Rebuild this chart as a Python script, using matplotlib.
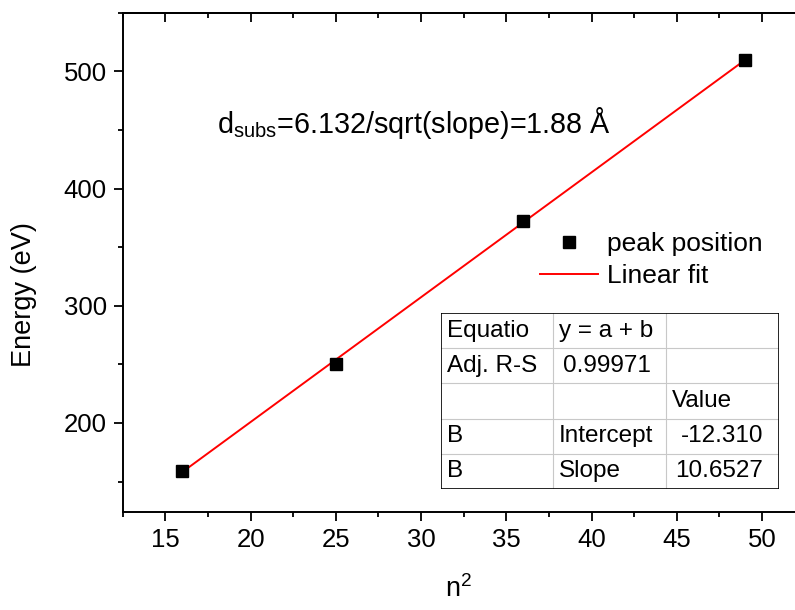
import matplotlib
matplotlib.use('Agg')
import matplotlib.pyplot as plt
from matplotlib.ticker import MultipleLocator
from matplotlib.lines import Line2D

# data
n2 = [16, 25, 36, 49]
energy = [159, 250, 372, 510]
intercept = -12.310
slope = 10.6527
fit_x = [16, 49]
xticks = [15, 20, 25, 30, 35, 40, 45, 50]
yticks = [200, 300, 400, 500]
table_rows = [
    ["Equatio", "y = a + b", ""],
    ["Adj. R-S", "0.99971", ""],
    ["", "", "Value"],
    ["B", "Intercept", "-12.310"],
    ["B", "Slope", "10.6527"],
]
note = "d$_{\\mathrm{subs}}$=6.132/sqrt(slope)=1.88 Å"

plt.rcParams['font.family'] = ['Liberation Sans', 'DejaVu Sans']
plt.rcParams['mathtext.fontset'] = 'custom'
plt.rcParams['mathtext.rm'] = 'Liberation Sans'
plt.rcParams['mathtext.it'] = 'Liberation Sans'
plt.rcParams['mathtext.bf'] = 'Liberation Sans'

W, H = 795, 610
fig = plt.figure(figsize=(W / 100, H / 100), dpi=100)

# axes box in pixels
left, right, top, bottom = 122.7, 795, 12.7, 512
ax = fig.add_axes([left / W, 1 - bottom / H, (right - left) / W, (bottom - top) / H])

fit_y = [intercept + slope * x for x in fit_x]
ax.plot(fit_x, fit_y, color='red', lw=1.4, zorder=2)
ax.plot(n2, energy, 's', color='black', ms=8, zorder=3)

ax.set_xlim(12.5, 12.5 + (right - left) / 17.05)
ax.set_ylim(124, 550)
ax.spines['right'].set_visible(False)
for s in ['left', 'bottom', 'top']:
    ax.spines[s].set_linewidth(1.4)

ax.set_xticks(xticks)
ax.set_yticks(yticks)
ax.xaxis.set_minor_locator(MultipleLocator(2.5))
ax.yaxis.set_minor_locator(MultipleLocator(50))
ax.tick_params(which='major', direction='out', length=6.5, width=1.3, labelsize=18.5, pad=5)
ax.tick_params(which='minor', direction='out', length=3.5, width=1.3)

# top ticks point inward
sec = ax.secondary_xaxis('top')
sec.set_xticks(xticks)
sec.xaxis.set_minor_locator(MultipleLocator(2.5))
sec.tick_params(which='major', direction='in', length=6.5, width=1.3, labeltop=False)
sec.tick_params(which='minor', direction='in', length=3.5, width=1.3)
sec.spines['top'].set_linewidth(1.4)

ax.set_xlabel("n$^2$", fontsize=19.5, labelpad=17)
ax.set_ylabel("Energy (eV)", fontsize=19.5)
ax.yaxis.set_label_coords(-0.127, 0.435)

fig.text(217 / W, 1 - 133 / H, note, fontsize=20.7, va='baseline', ha='left')

handles = [
    Line2D([], [], ls='none', marker='s', color='black', ms=8),
    Line2D([], [], color='red', lw=1.4),
]
ax.legend(handles, ["peak position", "Linear fit"], loc='upper left',
          bbox_to_anchor=(540 / W, 1 - 232 / H), bbox_transform=fig.transFigure,
          frameon=False, fontsize=19, handlelength=2.2, handletextpad=0.35,
          labelspacing=0.3, borderpad=0, borderaxespad=0)

# fit table
tx0, tx1, ty0, ty1 = 440.7, 779, 313, 489
tax = fig.add_axes([tx0 / W, 1 - ty1 / H, (tx1 - tx0) / W, (ty1 - ty0) / H])
tax.set_xlim(tx0, tx1)
tax.set_ylim(ty1, ty0)
tax.axis('off')
cols = [440.7, 553, 666, 779]
nrow = len(table_rows)
rh = (ty1 - ty0) / nrow
for i in range(1, nrow):
    tax.plot([tx0, tx1], [ty0 + i * rh] * 2, color='#c8c8c8', lw=0.8)
for c in cols[1:-1]:
    tax.plot([c, c], [ty0, ty1], color='#c8c8c8', lw=0.8)
tax.plot([tx0, tx1, tx1, tx0, tx0], [ty0, ty0, ty1, ty1, ty0], color='black', lw=1.2)
for i, row in enumerate(table_rows):
    yc = ty0 + (i + 0.5) * rh
    for j, val in enumerate(row):
        if not val:
            continue
        if j == 2 and val != "Value":
            tax.text(cols[3] - 16, yc, val, fontsize=17.5, ha='right', va='center')
        elif j == 1 and i == 1:
            tax.text(cols[1] + 10, yc, val, fontsize=17.5, ha='left', va='center')
        else:
            tax.text(cols[j] + 6, yc, val, fontsize=17.5, ha='left', va='center')

fig.savefig('out.png', dpi=100)
